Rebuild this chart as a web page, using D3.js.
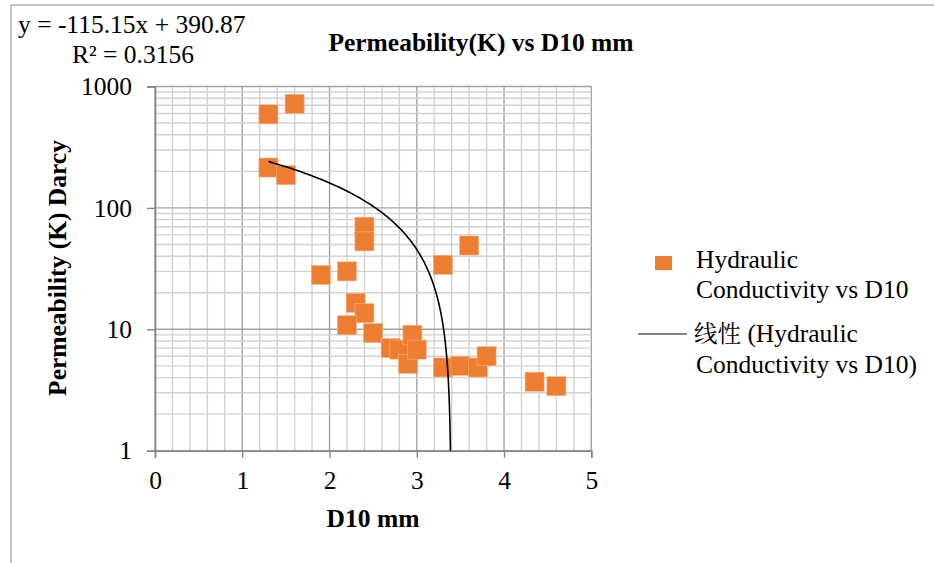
<!DOCTYPE html>
<html>
<head>
<meta charset="utf-8">
<script src="https://d3js.org/d3.v7.min.js"></script>
<style>
	body { margin: 0; background: #fff; }
	svg text { font-family: "Liberation Serif", "Times New Roman", serif; }
	svg text tspan.cjk { font-family: "Noto Serif CJK SC", "Noto Sans CJK SC", sans-serif; }
</style>
</head>
<body>
<script>
//data
var d10 = [1.3, 1.6, 1.3, 1.5, 1.9, 2.2, 2.3, 2.4, 2.4, 2.4, 2.2, 2.5, 2.7, 2.8, 2.9, 2.95, 3.0, 3.3, 3.3, 3.5, 3.6, 3.7, 3.8, 4.35, 4.6];
var permeability = [590, 720, 215, 186, 28, 30, 16.5, 70, 53, 13.6, 10.8, 9.3, 7.0, 6.8, 5.2, 9.0, 6.8, 34, 4.85, 5.0, 49, 4.85, 6.0, 3.7, 3.4];
var xTicks = [0, 1, 2, 3, 4, 5];
var yTicks = [1, 10, 100, 1000];
//linear trendline coefficients shown on the chart
var slope = -115.15,
	intercept = 390.87;
var seriesName = ["Hydraulic", "Conductivity vs D10"];
var trendName = ["线性 (Hydraulic", "Conductivity vs D10)"];

(function(){

var width = 934,
	height = 563,
	plotLeft = 155,
	plotRight = 591.3,
	plotTop = 86.5,
	plotBottom = 450.7,
	fs = 25.5;

var svg = d3.select("body")
	.append("svg")
	.attr("width", width)
	.attr("height", height);

//chart border
svg.append("path")
	.attr("d", "M11," + height + "V5H" + width)
	.attr("fill", "none")
	.attr("stroke", "#b4b4b4")
	.attr("stroke-width", 1.5);

var x = d3.scaleLinear().domain([0, 5]).range([plotLeft, plotRight]);
var y = d3.scaleLog().domain([1, 1000]).range([plotBottom, plotTop]);

//gridlines
var grid = svg.append("g");
grid.selectAll(".vgrid")
	.data(x.ticks(25))
	.enter()
	.append("line")
	.attr("x1", function(d){ return x(d); })
	.attr("x2", function(d){ return x(d); })
	.attr("y1", plotTop)
	.attr("y2", plotBottom)
	.attr("stroke", function(d){ return Math.abs(d - Math.round(d)) < 1e-6 ? "#a3a3a3" : "#d2d2d2"; })
	.attr("stroke-width", 1.4);

grid.selectAll(".hgrid")
	.data(y.ticks())
	.enter()
	.append("line")
	.attr("x1", plotLeft)
	.attr("x2", plotRight)
	.attr("y1", function(d){ return y(d); })
	.attr("y2", function(d){ return y(d); })
	.attr("stroke", function(d){ return yTicks.indexOf(d) >= 0 ? "#a3a3a3" : "#d2d2d2"; })
	.attr("stroke-width", 1.4);

//axes
var yAxis = svg.append("g")
	.attr("transform", "translate(" + plotLeft + ",0)")
	.call(d3.axisLeft(y).tickValues(yTicks).tickFormat(d3.format("d")).tickSize(8).tickPadding(15));

var xAxis = svg.append("g")
	.attr("transform", "translate(0," + plotBottom + ")")
	.call(d3.axisBottom(x).tickValues(xTicks).tickFormat(d3.format("d")).tickSize(7).tickPadding(13));

[xAxis, yAxis].forEach(function(a){
	a.select(".domain").attr("stroke", "#868686").attr("stroke-width", 1.6);
	a.selectAll(".tick line").attr("stroke", "#868686").attr("stroke-width", 1.4);
	a.selectAll(".tick text")
		.attr("fill", "#000")
		.style("font-size", fs + "px");
});

//trendline, clipped to plot area
svg.append("clipPath")
	.attr("id", "plotClip")
	.append("rect")
	.attr("x", plotLeft)
	.attr("y", plotTop)
	.attr("width", plotRight - plotLeft)
	.attr("height", plotBottom - plotTop);

var xEnd = (1 - intercept) / slope;
var trendPts = d3.range(0, 201).map(function(i){
	var xv = d10[0] + (xEnd - d10[0]) * Math.pow(i / 200, 0.6);
	if (i == 200) xv = xEnd;
	return [xv, Math.max(1, slope * xv + intercept)];
});

//scatter markers
svg.append("g")
	.selectAll("rect")
	.data(d10)
	.enter()
	.append("rect")
	.attr("x", function(d){ return x(d) - 9.5; })
	.attr("y", function(d, i){ return y(permeability[i]) - 9.5; })
	.attr("width", 19)
	.attr("height", 19)
	.attr("fill", "#ED7D31")
	.attr("stroke", "#f4b183")
	.attr("stroke-width", 0.6);

svg.append("path")
	.datum(trendPts)
	.attr("clip-path", "url(#plotClip)")
	.attr("d", d3.line()
		.x(function(d){ return x(d[0]); })
		.y(function(d){ return y(d[1]); }))
	.attr("fill", "none")
	.attr("stroke", "#000")
	.attr("stroke-width", 1.6);

//titles
svg.append("text")
	.attr("x", 481)
	.attr("y", 51)
	.attr("text-anchor", "middle")
	.attr("font-weight", "bold")
	.attr("font-size", fs)
	.text("Permeability(K) vs D10 mm");

svg.append("text")
	.attr("x", 373)
	.attr("y", 527)
	.attr("text-anchor", "middle")
	.attr("font-weight", "bold")
	.attr("font-size", fs)
	.text("D10 mm");

svg.append("text")
	.attr("transform", "translate(66,268) rotate(-90)")
	.attr("text-anchor", "middle")
	.attr("font-weight", "bold")
	.attr("font-size", fs)
	.text("Permeability (K) Darcy");

//trendline equation
svg.append("text")
	.attr("x", 18)
	.attr("y", 33)
	.attr("font-size", fs)
	.text("y = " + slope + "x + " + intercept);

svg.append("text")
	.attr("x", 72)
	.attr("y", 63)
	.attr("font-size", fs)
	.text("R² = 0.3156");

//legend
var legend = svg.append("g");
legend.append("rect")
	.attr("x", 655)
	.attr("y", 256)
	.attr("width", 17)
	.attr("height", 14)
	.attr("fill", "#ED7D31");

legend.selectAll(".s1")
	.data(seriesName)
	.enter()
	.append("text")
	.attr("x", 696)
	.attr("y", function(d, i){ return 268 + i * 30; })
	.attr("font-size", fs)
	.text(function(d){ return d; });

legend.append("line")
	.attr("x1", 638)
	.attr("x2", 687)
	.attr("y1", 334)
	.attr("y2", 334)
	.attr("stroke", "#000")
	.attr("stroke-width", 1.2);

var t1 = legend.append("text")
	.attr("x", 694)
	.attr("y", 342)
	.attr("font-size", fs);
t1.append("tspan").attr("class", "cjk").attr("font-size", fs - 2).text(trendName[0].slice(0, 2));
t1.append("tspan").text(trendName[0].slice(2));

legend.append("text")
	.attr("x", 696)
	.attr("y", 373)
	.attr("font-size", fs)
	.text(trendName[1]);

})();
</script>
</body>
</html>
